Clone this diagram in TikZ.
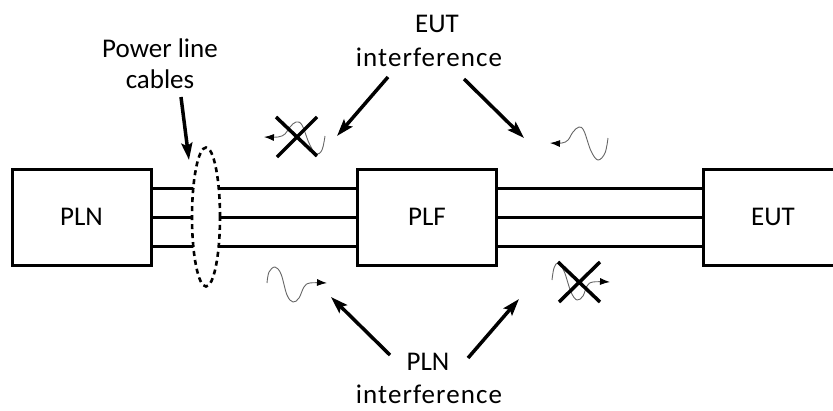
\documentclass[tikz,border=0pt]{standalone}
\usepackage{fontspec}
\setmainfont{Carlito}
\usetikzlibrary{arrows.meta,shapes.geometric}
\begin{document}
\begin{tikzpicture}[x=1pt,y=-1pt,
  box/.style={draw,line width=3pt,minimum width=139pt,minimum height=96pt,inner sep=0pt,font=\fontsize{27}{32}\selectfont},
  wire/.style={line width=3pt},
  bigarrow/.style={line width=3.5pt,-{Stealth[length=17pt,width=11pt,inset=3pt]}},
  wave/.style={line width=0.9pt,draw=black!60,-{Latex[length=10pt,width=7pt,black]}},
  cross/.style={line width=3.5pt},
  lbl/.style={font=\fontsize{27}{32}\selectfont,inner sep=0pt,anchor=base},
  wide/.style={lbl,font=\fontsize{27}{32}\selectfont\addfontfeature{LetterSpace=4}}
]
\useasboundingbox (0,0) rectangle (833,410);

% boxes
\node[box] (pln) at (81.5,217) {PLN};
\node[box] (plf) at (427,217) {PLF};
\node[box,minimum width=140pt] (eut) at (773,217) {EUT};

% wires
\foreach \d in {29,0,-29}{
  \draw[wire] ([yshift=\d pt]pln.east) -- ([yshift=\d pt]plf.west);
  \draw[wire] ([yshift=\d pt]plf.east) -- ([yshift=\d pt]eut.west);
}

% cable bundle
\node[ellipse,draw,fill=white,line width=2.6pt,dash pattern=on 5pt off 4pt,
      minimum width=28pt,minimum height=139pt,inner sep=0pt] (cab) at (206,217) {};

% labels
\node[lbl] (plc1) at (160,57) {Power line};
\node[lbl] (plc2) at (160,88) {cables};
\node[lbl] (eui1) at (437,32) {EUT};
\node[wide] (eui2) at (429,66) {interference};
\node[lbl] (pli1) at (428,370) {PLN};
\node[wide] (pli2) at (429,403) {interference};

% arrow end points
\coordinate (c1s) at (181,97);   \coordinate (c1e) at (189,160);
\coordinate (e1s) at (388,77);   \coordinate (e1e) at (337,136);
\coordinate (e2s) at (464,79);   \coordinate (e2e) at (524,138);
\coordinate (p1s) at (390,355);  \coordinate (p1e) at (331,297);
\coordinate (p2s) at (468,358);  \coordinate (p2e) at (519,299);

\draw[bigarrow] (c1s) -- (c1e);
\draw[bigarrow] (e1s) -- (e1e);
\draw[bigarrow] (e2s) -- (e2e);
\draw[bigarrow] (p1s) -- (p1e);
\draw[bigarrow] (p2s) -- (p2e);

% waves
\draw[wave] plot[smooth,tension=0.6] coordinates {(325,136) (322,150) (316,154) (309,143) (302,125) (296,122) (290,127) (285,134) (278,137) (264,137)};
\draw[wave] plot[smooth,tension=0.6] coordinates {(608,138) (605,153) (598,160) (591,151) (584,131) (579,127) (573,132) (568,140) (562,143) (550,143)};
\draw[wave] plot[smooth,tension=0.6] coordinates {(267,283) (269,272) (275,267) (281,274) (287,295) (293,302) (299,298) (304,287) (310,283) (327,283)};
\draw[wave] plot[smooth,tension=0.6] coordinates {(552,280) (554,268) (558,263) (564,271) (571,292) (577,300) (583,296) (587,286) (593,282) (610,282)};

% crosses
\draw[cross] (276,117) -- (317,156) (317,117) -- (277,157);
\draw[cross] (558,262) -- (600,302) (600,262) -- (559,302);
\end{tikzpicture}
\end{document}
